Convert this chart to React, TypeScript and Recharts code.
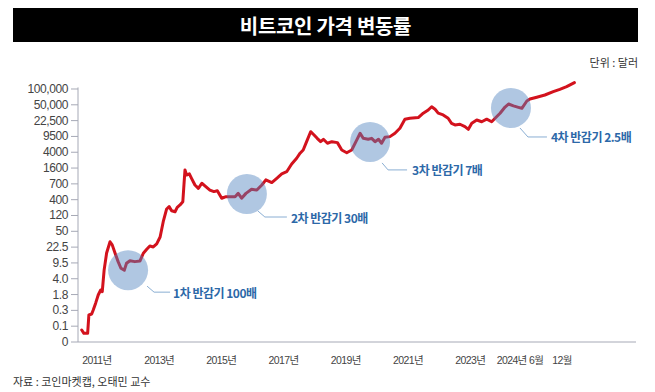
import React from 'react';
import { LineChart, Line, XAxis, YAxis, ReferenceDot, ReferenceLine } from 'recharts';

// ---- data ----
const Y_TICK_VALUES = [0, 0.1, 0.3, 1.8, 4.0, 9.5, 22.5, 50, 120, 400, 700, 1600, 4000, 9500, 22500, 50000, 100000];
const Y_TICK_LABELS = ['0', '0.1', '0.3', '1.8', '4.0', '9.5', '22.5', '50', '120', '400', '700', '1600', '4000', '9500', '22,500', '50,000', '100,000'];

const X_TICK_VALUES = [2011, 2013, 2015, 2017, 2019, 2021, 2023, 2024.6, 2025.95];
const X_TICK_LABELS = ['2011년', '2013년', '2015년', '2017년', '2019년', '2021년', '2023년', '2024년 6월', '12월'];

const YEARS = [
  2010.51, 2010.58, 2010.70, 2010.74, 2010.83, 2010.88, 2010.96, 2011.04, 2011.12, 2011.17,
  2011.23, 2011.31, 2011.42, 2011.49, 2011.58, 2011.68, 2011.77, 2011.88, 2011.95, 2012.06,
  2012.22, 2012.38, 2012.49, 2012.60, 2012.70, 2012.81, 2012.92, 2013.03, 2013.13, 2013.24,
  2013.32, 2013.40, 2013.51, 2013.58, 2013.67, 2013.76, 2013.80, 2013.83, 2013.88, 2013.97,
  2014.04, 2014.15, 2014.26, 2014.37, 2014.47, 2014.63, 2014.76, 2014.87, 2015.01, 2015.15,
  2015.30, 2015.44, 2015.54, 2015.65, 2015.79, 2015.97, 2016.14, 2016.30, 2016.43, 2016.62,
  2016.78, 2016.94, 2017.10, 2017.26, 2017.42, 2017.53, 2017.63, 2017.74, 2017.87, 2017.98,
  2018.08, 2018.19, 2018.28, 2018.41, 2018.55, 2018.73, 2018.87, 2019.03, 2019.19, 2019.35,
  2019.46, 2019.56, 2019.72, 2019.83, 2019.94, 2020.05, 2020.15, 2020.26, 2020.42, 2020.58,
  2020.74, 2020.90, 2021.06, 2021.33, 2021.49, 2021.65, 2021.76, 2021.87, 2021.97, 2022.13,
  2022.29, 2022.40, 2022.51, 2022.67, 2022.83, 2022.94, 2023.05, 2023.21, 2023.37, 2023.53,
  2023.69, 2023.80, 2023.96, 2024.12, 2024.23, 2024.39, 2024.55, 2024.66, 2024.82, 2024.92,
  2025.14, 2025.40, 2025.67, 2025.88, 2026.10, 2026.35,
];

const PRICES = [
  0.076, 0.055, 0.055, 0.218, 0.233, 0.311, 0.70, 1.71, 2.27, 2.08,
  6.4, 16.3, 29.5, 25.2, 16.3, 10.2, 7.1, 6.4, 9.3, 10.7,
  10.2, 10.5, 16.1, 20.0, 23.8, 22.7, 26.4, 37.5, 85, 197,
  236, 172, 160, 224, 269, 342, 724, 1450, 1113, 1179,
  935, 673, 598, 724, 651, 562, 532, 550, 421, 445,
  445, 445, 500, 421, 500, 578, 562, 673, 861, 748,
  935, 1179, 1323, 2030, 2824, 3786, 4516, 7140, 12300, 10270,
  8560, 7140, 8130, 6550, 7140, 6770, 4516, 3890, 4516, 7760,
  11290, 8560, 8130, 8560, 7140, 8130, 6550, 9100, 9400, 11290,
  14880, 24170, 25350, 26190, 32740, 38430, 45400, 39960, 32740, 29970,
  25350, 19430, 17820, 18450, 16210, 14000, 19430, 23220, 21170, 24170,
  21170, 25350, 32740, 44700, 51750, 47300, 43990, 41900, 59050, 64600,
  69730, 76850, 88900, 98600, 111000, 132000,
];

const HALVING_YEARS = [2012.0, 2015.82, 2019.78, 2024.31];
const HALVING_PRICES = [6.4, 489, 7040, 42600];
const HALVING_LABELS = ['1차 반감기 100배', '2차 반감기 30배', '3차 반감기 7배', '4차 반감기 2.5배'];

// ---- layout / style ----
const X_DOMAIN = [2010.39, 2028.33];
const Y_DOMAIN = [0, 16.6];
const CALLOUT_OFFSETS = [
  { sx: 19, sy: 16, kx: 26, ky: 22, ex: 42, tx: 45 },
  { sx: 11, sy: 17, kx: 18, ky: 23, ex: 40, tx: 44 },
  { sx: 12, sy: 21, kx: 18, ky: 28, ex: 37, tx: 42 },
  { sx: 9, sy: 20, kx: 17, ky: 29, ex: 36, tx: 40 },
];
const KR_FONT = '"Noto Sans CJK KR", "Noto Sans", sans-serif';
const NUM_FONT = '"Liberation Sans", "Noto Sans CJK KR", sans-serif';

// custom tick scale: piecewise geometric between labelled ticks
function toLevel(p: number): number {
  const t = Y_TICK_VALUES;
  if (p <= t[1]) return p / t[1];
  for (let i = 1; i < t.length - 1; i++) {
    if (p <= t[i + 1]) return i + Math.log(p / t[i]) / Math.log(t[i + 1] / t[i]);
  }
  const n = t.length - 1;
  return n + Math.log(p / t[n]) / Math.log(t[n] / t[n - 1]);
}

const data = YEARS.map((year, i) => ({ year, price: PRICES[i], level: toLevel(PRICES[i]) }));
const yLevels = Y_TICK_VALUES.map((_, i) => i);

const YTick = (props: any) => {
  const { x, y, payload } = props;
  return (
    <text x={x} y={y} textAnchor="end" dominantBaseline="central" fontFamily={NUM_FONT} fontSize={12}
      letterSpacing={-0.4} fill="#444">
      {Y_TICK_LABELS[payload.value]}
    </text>
  );
};

const XTick = (props: any) => {
  const { x, y, payload } = props;
  const idx = X_TICK_VALUES.indexOf(payload.value);
  return (
    <text x={x} y={y + 10} textAnchor="middle" dominantBaseline="central" fontFamily={NUM_FONT} fontSize={10.5}
      letterSpacing={-0.6} fill="#444">
      {X_TICK_LABELS[idx]}
    </text>
  );
};

const makeHalvingShape = (i: number) => (props: any) => {
  const { cx, cy } = props;
  const o = CALLOUT_OFFSETS[i];
  return (
    <g>
      <circle cx={cx} cy={cy} r={20} fill="#5082be" fillOpacity={0.45} />
      <polyline
        points={`${cx + o.sx},${cy + o.sy} ${cx + o.kx},${cy + o.ky} ${cx + o.ex},${cy + o.ky}`}
        fill="none" stroke="#8aaed3" strokeWidth={1}
      />
      <text x={cx + o.tx} y={cy + o.ky} dominantBaseline="central" fontFamily={KR_FONT} fontSize={12}
        fontWeight={700} letterSpacing={-0.5} fill="#2c68a8">
        {HALVING_LABELS[i]}
      </text>
    </g>
  );
};

export default function App() {
  return (
    <div style={{ position: 'fixed', left: 0, top: 0, width: 655, height: 392, background: '#fff', overflow: 'hidden' }}>
      <div style={{ position: 'absolute', left: 0, top: 0 }}>
        <LineChart width={655} height={392} data={data} margin={{ top: 79.5, right: 19, bottom: 20, left: 8 }}>
          <XAxis type="number" dataKey="year" domain={X_DOMAIN} ticks={X_TICK_VALUES} interval={0}
            tickLine={false} axisLine={{ stroke: '#a6a9b6', strokeWidth: 1 }} tick={<XTick />} height={30}
            allowDecimals />
          <YAxis type="number" domain={Y_DOMAIN} ticks={yLevels} interval={0} width={70}
            axisLine={false} tickLine={{ stroke: '#a6a9b6' }} tickSize={7} tickMargin={3} tick={<YTick />} />
          <ReferenceLine segment={[{ x: X_DOMAIN[0], y: 0 }, { x: X_DOMAIN[0], y: 16.1 }]} stroke="#a6a9b6"
            strokeWidth={1} ifOverflow="visible" />
          <Line type="linear" dataKey="level" stroke="#d3121d" strokeWidth={3} dot={false}
            strokeLinejoin="round" strokeLinecap="round" isAnimationActive={false} />
          {HALVING_YEARS.map((yr, i) => (
            <ReferenceDot key={i} x={yr} y={toLevel(HALVING_PRICES[i])} r={20} ifOverflow="visible"
              shape={makeHalvingShape(i)} />
          ))}
        </LineChart>
      </div>
      <div style={{ position: 'absolute', left: 13, top: 8, width: 625, height: 34, background: '#000', color: '#fff',
        fontFamily: KR_FONT, fontWeight: 700, fontSize: 20, display: 'flex', alignItems: 'center', justifyContent: 'center',
        letterSpacing: -0.3 }}>
        비트코인 가격 변동률
      </div>
      <div style={{ position: 'absolute', right: 17, top: 55, fontFamily: KR_FONT, fontSize: 11, lineHeight: '14px', color: '#333' }}>
        단위 : 달러
      </div>
      <div style={{ position: 'absolute', left: 13, top: 374, fontFamily: KR_FONT, fontSize: 11, lineHeight: '14px', color: '#333' }}>
        자료 : 코인마켓캡, 오태민 교수
      </div>
    </div>
  );
}
